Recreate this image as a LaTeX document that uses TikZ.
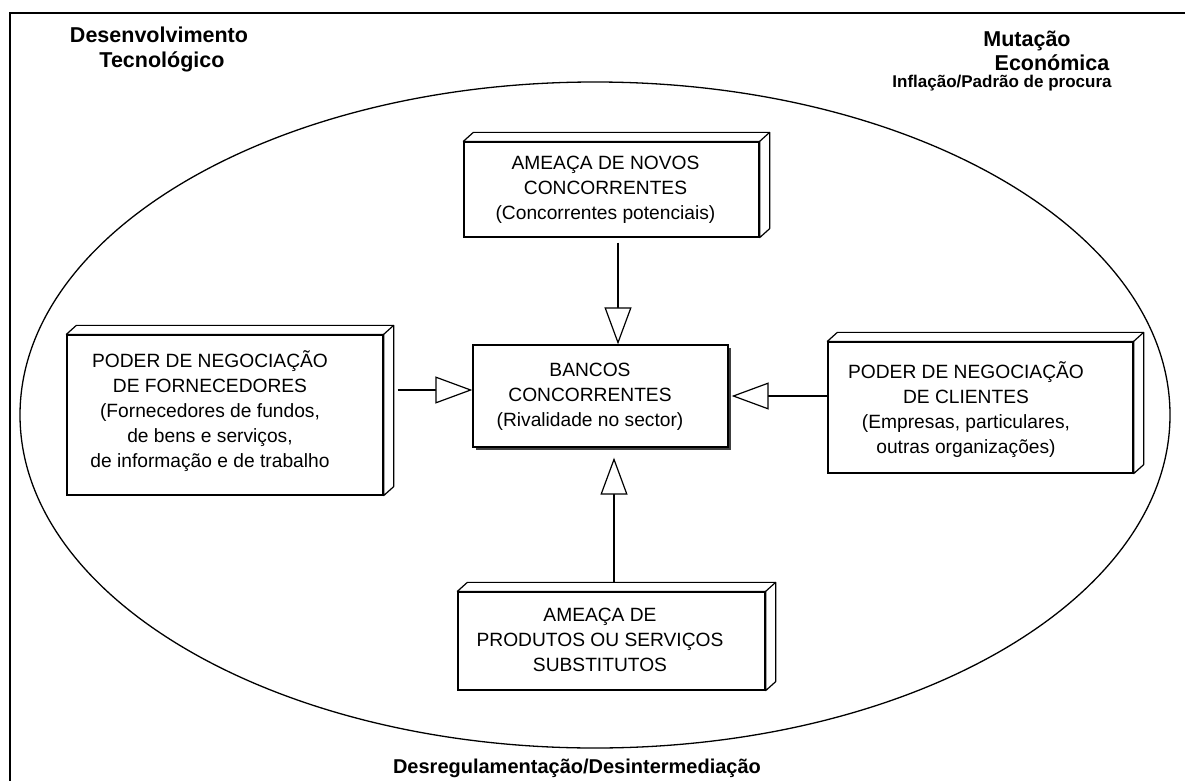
\documentclass[tikz,border=0pt]{standalone}
\usepackage{fontspec}
\setmainfont{Liberation Sans}
\usetikzlibrary{arrows.meta}
\begin{document}
\begin{tikzpicture}[x=1pt,y=-1pt,
  boxtext/.style={font=\fontsize{19.2}{25}\selectfont, align=center, inner sep=0pt},
  headtext/.style={font=\fontsize{21.5}{25}\selectfont\bfseries, inner sep=0pt, anchor=base},
  front/.style={draw, line width=1.3pt, fill=white, inner sep=0pt},
  side/.style={draw, line width=1.2pt, line join=round, fill=white},
  flow/.style={line width=1.2pt, -{Triangle[open, length=37pt, width=27pt, line width=1.2pt, fill=white]}}
]
\useasboundingbox (0,0) rectangle (1185,781);

% page frame (top and left edges)
\draw[line width=1.8pt] (1185,13) -- (10,13) -- (10,781);

% outer environment
\draw[line width=1.3pt] (595,415) ellipse [x radius=575, y radius=333];

% environment labels
\node[headtext] (dev1) at (159,43) {Desenvolvimento};
\node[headtext] (dev2) at (162,68) {Tecnológico};
\node[headtext] (mut1) at (1027,47) {Mutação};
\node[headtext] (mut2) at (1052,71) {Económica};
\node[headtext, font=\fontsize{17}{20}\selectfont\bfseries] (mut3) at (1002,88) {Inflação/Padrão de procura};
\node[headtext, font=\fontsize{20}{25}\selectfont\bfseries] (dereg) at (577,773) {Desregulamentação/Desintermediação};

% box with depth faces drawn to the upper right
\newcommand{\depthbox}[5]{%
  \node[front, minimum width=#4, minimum height=#5] (#1) at (#2,#3) {};
  \draw[side] (#1.north west) -- ++(10,-9) -| ([shift={(10,-9)}]#1.south east) -- (#1.south east) -- (#1.north east) -- cycle;
  \draw[line width=1.2pt] (#1.north east) -- ++(10,-9);
}

% forces
\depthbox{novos}{611.5}{189.5}{295}{95}
\depthbox{forn}{225}{415}{316}{160}
\depthbox{clien}{980.5}{407.5}{305}{131}
\depthbox{subst}{611.5}{641}{307}{98}

% central box with drop shadow
\fill[black!75] (476,348) rectangle (731,450);
\node[front, minimum width=255, minimum height=102] (bancos) at (600.5,396) {};

% texts
\node[boxtext] (tnovos) at (605.5,190) {AMEAÇA DE NOVOS\\CONCORRENTES\\(Concorrentes potenciais)};
\node[boxtext] (tforn) at (210,411) {PODER DE NEGOCIAÇÃO\\DE FORNECEDORES\\(Fornecedores de fundos,\\de bens e serviços,\\de informação e de trabalho};
\node[boxtext] (tclien) at (966,410) {PODER DE NEGOCIAÇÃO\\DE CLIENTES\\(Empresas, particulares,\\outras organizações)};
\node[boxtext] (tbancos) at (590,397) {BANCOS\\CONCORRENTES\\(Rivalidade no sector)};
\node[boxtext] (tsubst) at (600,640) {AMEAÇA DE\\PRODUTOS OU SERVIÇOS\\SUBSTITUTOS};

% connectors
\coordinate (aTop) at (618,0);
\coordinate (aBot) at (614,0);
\draw[flow, shorten <=5pt] (novos.south -| aTop) -- (bancos.north -| aTop);
\draw[flow] ([xshift=14pt]forn.east |- 0,390) -- (bancos.west |- 0,390);
\draw[flow] (clien.west |- 0,396) -- ([xshift=3pt]bancos.east |- 0,396);
\draw[flow, shorten >=10pt] ([yshift=9pt]subst.north -| aBot) -- (bancos.south -| aBot);

\end{tikzpicture}
\end{document}
